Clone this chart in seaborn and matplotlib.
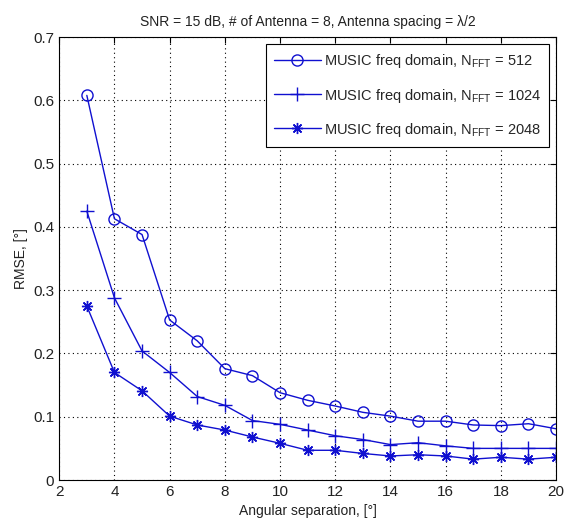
import matplotlib
matplotlib.use("Agg")
import matplotlib.pyplot as plt
import seaborn as sns
import pandas as pd
import numpy as np

angles = list(range(3, 21))
rmse_512 = [0.608, 0.413, 0.388, 0.253, 0.220, 0.176, 0.165, 0.138, 0.126, 0.117,
            0.107, 0.101, 0.093, 0.093, 0.087, 0.086, 0.089, 0.081]
rmse_1024 = [0.425, 0.288, 0.204, 0.170, 0.132, 0.118, 0.094, 0.088, 0.079, 0.070,
             0.064, 0.056, 0.059, 0.054, 0.050, 0.050, 0.050, 0.050]
rmse_2048 = [0.275, 0.170, 0.141, 0.101, 0.087, 0.079, 0.068, 0.058, 0.047, 0.047,
             0.042, 0.038, 0.040, 0.038, 0.033, 0.036, 0.033, 0.036]
labels = [r'MUSIC freq domain, N$_{\mathrm{FFT}}$ = 512',
          r'MUSIC freq domain, N$_{\mathrm{FFT}}$ = 1024',
          r'MUSIC freq domain, N$_{\mathrm{FFT}}$ = 2048']
xticks = [2, 4, 6, 8, 10, 12, 14, 16, 18, 20]
yticks = [0, 0.1, 0.2, 0.3, 0.4, 0.5, 0.6, 0.7]
ytick_labels = ["0", "0.1", "0.2", "0.3", "0.4", "0.5", "0.6", "0.7"]

sns.set_style("white")
plt.rcParams['font.family'] = ['Liberation Sans', 'DejaVu Sans']
plt.rcParams['mathtext.fontset'] = 'custom'
plt.rcParams['mathtext.rm'] = 'Liberation Sans'
plt.rcParams['mathtext.it'] = 'Liberation Sans'

fig = plt.figure(figsize=(5.64, 5.31), dpi=100)
ax = fig.add_axes([0.105, 0.096, 0.881, 0.834])

color = '#1010d0'
series = [rmse_512, rmse_1024, rmse_2048]
markers = ['o', '+', (8, 2, 0)]
msizes = [8, 10, 8]
for vals, lab, mk, ms in zip(series, labels, markers, msizes):
    df = pd.DataFrame({'x': angles, 'y': vals})
    kw = dict(marker=mk, markersize=ms, color=color, linewidth=1.0, label=lab,
              markeredgecolor=color, markeredgewidth=1.0)
    if mk == 'o':
        kw['markerfacecolor'] = 'none'
    else:
        kw['markerfacecolor'] = color
    sns.lineplot(data=df, x='x', y='y', ax=ax, **kw)

ax.set_xlim(2, 20)
ax.set_ylim(0, 0.7)
ax.set_xticks(xticks)
ax.set_yticks(yticks)
ax.set_yticklabels(ytick_labels)
ax.grid(True, linestyle=(0, (1, 3)), color='black', linewidth=0.8)
ax.tick_params(direction='in', top=True, right=True, labelsize=11, length=4,
               color='black', labelcolor='#222222')
for s in ax.spines.values():
    s.set_color('black')
    s.set_linewidth(0.8)
ax.set_xlabel('Angular separation, [°]', fontsize=10, color='#222222')
ax.set_ylabel('RMSE, [°]', fontsize=10, color='#222222')
ax.set_title('SNR = 15 dB, # of Antenna = 8, Antenna spacing = λ/2', fontsize=10,
             color='#222222', pad=8)

leg = ax.legend(loc='upper right', fontsize=10.5, frameon=True, fancybox=False,
                edgecolor='black', framealpha=1, borderaxespad=0.5,
                handlelength=3.2, handletextpad=0.2, labelspacing=1.1,
                borderpad=0.55)
leg.get_frame().set_linewidth(0.8)

fig.savefig('out.png', dpi=100)
